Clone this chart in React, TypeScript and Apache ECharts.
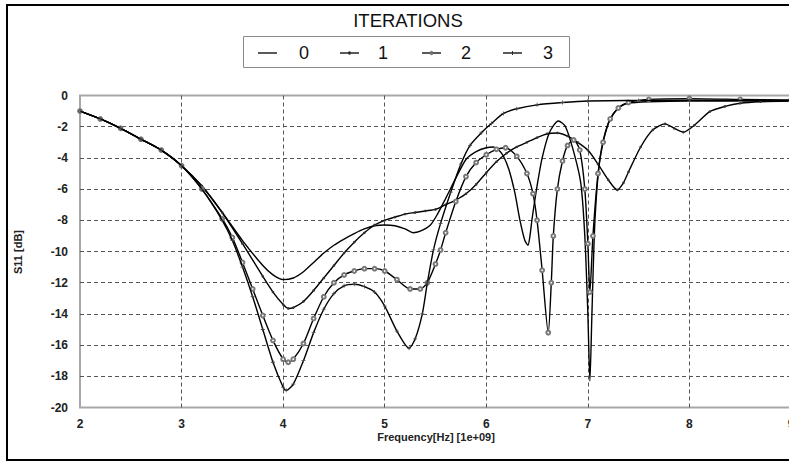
import React, { useEffect, useRef } from "react";
import * as echarts from "echarts";

const legendTitle = "ITERATIONS";
const iterationNames = ["0", "1", "2", "3"];
const xTickMin = 2;
const xTickMax = 9;
const yTickMin = -20;
const yTickMax = 0;
const xAxisTitle = "Frequency[Hz] [1e+09]";
const yAxisTitle = "S11 [dB]";

const freq0 = [2.0,2.2,2.4,2.6,2.8,3.0,3.2,3.4,3.6,3.8,3.9,4.0,4.1,4.2,4.3,4.4,4.5,4.6,4.7,4.8,4.9,5.0,5.1,5.2,5.28,5.35,5.45,5.52,5.6,5.7,5.8,5.9,6.0,6.07,6.15,6.22,6.28,6.33,6.38,6.41,6.43,6.45,6.5,6.55,6.62,6.71,6.78,6.86,6.93,6.97,7.0,7.02,7.04,7.07,7.12,7.2,7.3,7.4,7.6,8.0,8.5,9.0];
const s11_0 = [-1.0,-1.5,-2.1,-2.8,-3.5,-4.5,-5.8,-7.5,-9.3,-10.9,-11.5,-11.8,-11.7,-11.3,-10.7,-10.1,-9.6,-9.2,-8.85,-8.55,-8.35,-8.3,-8.35,-8.55,-8.8,-8.7,-8.3,-7.6,-6.6,-5.3,-4.1,-3.6,-3.35,-3.3,-3.7,-4.7,-6.2,-7.95,-9.3,-9.6,-9.0,-7.95,-5.8,-4.0,-2.4,-1.63,-2.0,-3.6,-5.6,-9.0,-14.0,-18.3,-14.0,-8.0,-4.0,-1.8,-0.8,-0.5,-0.4,-0.35,-0.35,-0.35];

const freq1 = [2.0,2.2,2.4,2.6,2.8,3.0,3.2,3.4,3.6,3.8,3.9,4.0,4.05,4.1,4.2,4.3,4.4,4.5,4.6,4.7,4.8,4.9,5.0,5.1,5.2,5.3,5.4,5.5,5.6,5.7,5.8,5.9,6.0,6.1,6.2,6.3,6.4,6.5,6.6,6.7,6.8,6.9,7.0,7.1,7.2,7.29,7.35,7.4,7.52,7.64,7.76,7.85,7.94,8.05,8.2,8.35,8.5,8.7,9.0];
const s11_1 = [-1.0,-1.5,-2.1,-2.8,-3.5,-4.5,-5.8,-7.5,-9.5,-11.6,-12.6,-13.4,-13.65,-13.6,-13.2,-12.5,-11.7,-10.9,-10.1,-9.4,-8.8,-8.3,-8.0,-7.8,-7.6,-7.5,-7.4,-7.3,-7.0,-6.7,-6.3,-5.7,-4.95,-4.25,-3.7,-3.3,-3.0,-2.7,-2.45,-2.4,-2.6,-3.0,-3.5,-4.4,-5.4,-6.05,-5.6,-4.9,-3.3,-2.2,-1.82,-2.1,-2.35,-1.9,-1.03,-0.7,-0.5,-0.4,-0.35];

const freq2 = [2.0,2.2,2.4,2.6,2.8,3.0,3.2,3.4,3.5,3.6,3.7,3.8,3.9,4.0,4.05,4.1,4.2,4.3,4.4,4.5,4.6,4.7,4.8,4.9,5.0,5.12,5.25,5.35,5.42,5.5,5.55,5.6,5.7,5.8,5.9,6.0,6.1,6.19,6.3,6.4,6.46,6.5,6.55,6.61,6.64,6.66,6.7,6.75,6.8,6.86,6.92,6.97,7.0,7.02,7.05,7.1,7.15,7.22,7.3,7.4,7.6,8.0,8.5,9.0];
const s11_2 = [-1.0,-1.5,-2.1,-2.8,-3.5,-4.5,-6.0,-7.9,-9.1,-10.7,-12.4,-14.1,-15.7,-16.9,-17.1,-16.9,-15.9,-14.3,-12.9,-12.0,-11.5,-11.25,-11.1,-11.1,-11.25,-11.8,-12.4,-12.4,-12.0,-10.8,-9.9,-8.8,-6.8,-5.2,-4.3,-3.8,-3.45,-3.35,-3.9,-5.0,-6.3,-8.0,-11.2,-15.2,-12.0,-9.0,-6.0,-4.2,-3.2,-2.85,-3.5,-6.0,-9.5,-12.6,-9.0,-5.0,-3.0,-1.5,-0.8,-0.45,-0.25,-0.2,-0.25,-0.3];

const freq3 = [2.0,2.2,2.4,2.6,2.8,3.0,3.2,3.4,3.5,3.6,3.7,3.8,3.9,4.0,4.03,4.1,4.2,4.3,4.4,4.5,4.6,4.7,4.8,4.9,5.0,5.12,5.24,5.3,5.37,5.42,5.48,5.55,5.65,5.75,5.84,5.95,6.05,6.17,6.3,6.5,6.75,7.0,7.5,8.0,9.0];
const s11_3 = [-1.0,-1.5,-2.1,-2.8,-3.5,-4.5,-6.0,-8.0,-9.3,-11.0,-12.9,-15.0,-17.1,-18.7,-18.9,-18.5,-17.0,-15.2,-13.7,-12.7,-12.2,-12.1,-12.25,-12.6,-13.5,-15.1,-16.2,-15.6,-14.0,-12.0,-9.9,-8.2,-6.2,-4.4,-3.2,-2.4,-1.8,-1.15,-0.85,-0.6,-0.45,-0.35,-0.32,-0.3,-0.3];

const FONT = "'Liberation Sans', Arial, sans-serif";
const PLUS = "path://M4,0H6V4H10V6H6V10H4V6H0V4H4Z";

function zip(xs: number[], ys: number[]) {
  const n = Math.min(xs.length, ys.length);
  const out: number[][] = [];
  for (let i = 0; i < n; i++) out.push([xs[i], ys[i]]);
  return out;
}

export default function App() {
  const ref = useRef<HTMLDivElement>(null);
  useEffect(() => {
    if (!ref.current) return;
    const chart = echarts.init(ref.current, null, { renderer: "svg" });
    const seriesData = [zip(freq0, s11_0), zip(freq1, s11_1), zip(freq2, s11_2), zip(freq3, s11_3)];
    const symbols = ["none", "circle", "emptyCircle", PLUS];
    const symbolSizes = [0, 2.6, 3.8, 4];
    const symbolColors = ["#000", "#333", "#777", "#444"];

    const lineStarts = [258, 340, 422, 503];
    const textStarts = [299, 378, 461, 543];
    const legendY = 53;
    const legendEls: any[] = [
      { type: "rect", shape: { x: 243.5, y: 36.5, width: 326, height: 31 }, style: { fill: "#fff", stroke: "#8a8a8a", lineWidth: 1 } },
    ];
    iterationNames.forEach((nm, i) => {
      const x0 = lineStarts[i];
      legendEls.push({ type: "line", shape: { x1: x0, y1: legendY, x2: x0 + 19, y2: legendY }, style: { stroke: "#000", lineWidth: 1.3 } });
      if (i === 1 || i === 2) {
        legendEls.push({ type: "circle", shape: { cx: x0 + 9.5, cy: legendY, r: i === 1 ? 1.5 : 1.7 }, style: { fill: i === 1 ? "#222" : "#777", stroke: "#555", lineWidth: 0.6 } });
      }
      if (i === 3) {
        legendEls.push({ type: "line", shape: { x1: x0 + 9.5, y1: legendY - 2, x2: x0 + 9.5, y2: legendY + 2 }, style: { stroke: "#333", lineWidth: 1 } });
      }
      legendEls.push({ type: "text", x: textStarts[i], y: legendY, style: { text: nm, font: `18px ${FONT}`, fill: "#111", textVerticalAlign: "middle", textAlign: "left" } });
    });

    chart.setOption({
      animation: false,
      backgroundColor: "#fff",
      grid: { left: 80, top: 95.5, width: 711, height: 312, show: true, borderColor: "#a8a8a8", borderWidth: 2, backgroundColor: "transparent" },
      xAxis: {
        type: "value", min: xTickMin, max: xTickMax, interval: 1,
        axisLine: { show: false }, axisTick: { show: false },
        axisLabel: { fontFamily: FONT, fontSize: 12, fontWeight: "bold", color: "#222", margin: 10 },
        splitLine: { show: true, showMinLine: false, showMaxLine: false, lineStyle: { color: "#555", type: [4, 3], width: 1 } },
      },
      yAxis: {
        type: "value", min: yTickMin, max: yTickMax, interval: 2,
        axisLine: { show: false }, axisTick: { show: false },
        axisLabel: { fontFamily: FONT, fontSize: 12, fontWeight: "bold", color: "#222", margin: 12 },
        splitLine: { show: true, showMinLine: false, showMaxLine: false, lineStyle: { color: "#555", type: [4, 3], width: 1 } },
      },
      graphic: [
        { type: "rect", shape: { x: 7, y: 5, width: 830, height: 455 }, style: { fill: "none", stroke: "#000", lineWidth: 2 }, z: 100 },
        { type: "text", x: 408, y: 20, style: { text: legendTitle, font: `18.5px ${FONT}`, fill: "#111", textAlign: "center", textVerticalAlign: "middle" } },
        ...legendEls,
        { type: "text", x: 436, y: 437, style: { text: xAxisTitle, font: `bold 11px ${FONT}`, fill: "#222", textAlign: "center", textVerticalAlign: "middle" } },
        { type: "text", x: 18, y: 252, rotation: Math.PI / 2, style: { text: yAxisTitle, font: `bold 11px ${FONT}`, fill: "#222", textAlign: "center", textVerticalAlign: "middle" } },
      ],
      series: iterationNames.map((nm, i) => ({
        type: "line",
        name: nm,
        data: seriesData[i],
        smooth: 0.25,
        symbol: symbols[i],
        symbolSize: symbolSizes[i],
        showSymbol: i !== 0,
        lineStyle: { color: "#000", width: 1.4 },
        itemStyle: { color: symbolColors[i], borderWidth: 1 },
        z: 3 + i,
      })),
    });
    return () => chart.dispose();
  }, []);
  return (
    <div style={{ position: "fixed", left: 0, top: 0, width: 789, height: 461, overflow: "hidden", background: "#fff" }}>
      <div ref={ref} style={{ width: 800, height: 461 }} />
    </div>
  );
}
